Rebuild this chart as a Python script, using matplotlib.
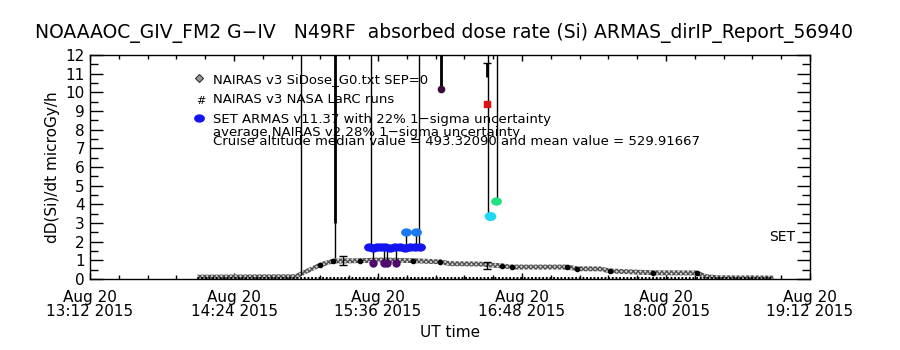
import numpy as np
import matplotlib
matplotlib.use("Agg")
import matplotlib.pyplot as plt
from matplotlib.ticker import MultipleLocator, FixedLocator
from matplotlib.markers import MarkerStyle
from matplotlib.transforms import Affine2D

# all times are UT hours on 2015-08-20
nairas_t = [14.092, 14.908, 15.117, 15.225, 15.45, 15.617, 15.892, 16.117, 16.2, 16.45,
            16.633, 16.717, 17.175, 17.258, 17.45, 17.533, 17.892, 18.258, 18.342, 18.45, 18.892]
nairas_v = [0.10, 0.12, 0.75, 0.96, 0.98, 1.02, 0.98, 0.92, 0.82, 0.80,
            0.70, 0.64, 0.64, 0.55, 0.54, 0.43, 0.33, 0.32, 0.12, 0.06, 0.05]
nairas_dot_t = [15.117, 15.225, 15.45, 15.892, 16.117, 16.633, 16.717, 17.175, 17.258, 17.533, 17.892, 18.258]
nairas_dot_v = [0.75, 0.96, 0.98, 0.98, 0.92, 0.70, 0.64, 0.64, 0.55, 0.43, 0.33, 0.32]
nairas_err_t = [15.308, 16.508]
nairas_err_lo = [0.75, 0.53]
nairas_err_hi = [1.23, 0.90]

larc_t = [14.092, 18.892]
larc_v = [0.03, 0.03]

armas_t = [15.525, 15.558, 15.592, 15.625, 15.658, 15.70, 15.742, 15.783, 15.825, 15.867, 15.908, 15.95]
armas_v = [1.70, 1.68, 1.70, 1.72, 1.70, 1.68, 1.70, 1.70, 1.68, 1.70, 1.72, 1.70]
armas_hi_t = [15.833, 15.917]
armas_hi_v = [2.53, 2.53]
armas_lo_t = [15.558, 15.65, 15.675, 15.75]
armas_lo_v = [0.86, 0.86, 0.86, 0.86]

# upper uncertainty lines that run off the top of the plot
spike_t = [14.958, 15.242, 15.542, 15.942, 16.125, 16.517, 16.592]
spike_lo = [0.2, 1.1, 1.7, 1.7, 10.2, 3.4, 4.2]
thick_t = [15.242, 16.125]
thick_lo = [3.0, 10.2]

purple_pt = (16.125, 10.2)
red_pt = (16.508, 9.4)
red_cap_lo, red_cap_hi = 10.8, 11.55
cyan_pt = (16.533, 3.4)
green_pt = (16.583, 4.2)

xticks = [13.2, 14.4, 15.6, 16.8, 18.0, 19.2]
xlabels = ["Aug 20\n13:12 2015", "Aug 20\n14:24 2015", "Aug 20\n15:36 2015",
           "Aug 20\n16:48 2015", "Aug 20\n18:00 2015", "Aug 20\n19:12 2015"]

plt.rcParams.update({"font.family": "DejaVu Sans", "font.size": 11, "hatch.linewidth": 0.9})

fig = plt.figure(figsize=(9, 3.5), dpi=100)
ax = fig.add_axes([0.1, 0.2029, 0.8, 0.64])

oval = MarkerStyle("o", transform=Affine2D().scale(1.35, 1.0))

# NAIRAS band (dithered grey)
nv = np.array(nairas_v)
ax.fill_between(nairas_t, nv - 0.13, nv + 0.13, facecolor="0.82", edgecolor="0.3",
                hatch="xxxxxxx", lw=0, zorder=2)
ax.plot(nairas_dot_t, nairas_dot_v, ls="none", marker="o", ms=3, color="k", zorder=3)
ax.plot(larc_t, larc_v, color="k", lw=2.2, ls=(0, (0.6, 0.6)), zorder=3)
ax.vlines(nairas_err_t, nairas_err_lo, nairas_err_hi, color="k", lw=1, zorder=4)
ax.hlines(nairas_err_lo + nairas_err_hi, np.array(nairas_err_t * 2) - 0.03,
          np.array(nairas_err_t * 2) + 0.03, color="k", lw=1, zorder=4)

ax.vlines(spike_t, spike_lo, 12.5, color="k", lw=1, zorder=4)
ax.vlines(thick_t, thick_lo, 12.5, color="k", lw=2, zorder=4)

# ARMAS
ax.vlines(armas_hi_t, 1.7, armas_hi_v, color="k", lw=1, zorder=4)
ax.vlines(armas_lo_t, armas_lo_v, 1.7, color="k", lw=1, zorder=4)
ax.plot(armas_t, armas_v, ls="none", marker=oval, ms=5, color="#1414f0", zorder=5)
ax.plot(armas_hi_t, armas_hi_v, ls="none", marker=oval, ms=5, color="#1a78f0", zorder=5)
ax.plot(armas_lo_t, armas_lo_v, ls="none", marker="o", ms=5, color="#500a6e", zorder=5)

ax.vlines(red_pt[0], red_cap_lo, red_cap_hi, color="k", lw=2, zorder=4)
ax.hlines(red_cap_hi, red_pt[0] - 0.03, red_pt[0] + 0.03, color="k", lw=1, zorder=4)
ax.plot(*purple_pt, marker="o", ms=4.5, color="#3a0a3a", zorder=6)
ax.plot(*red_pt, marker="s", ms=4.5, color="#e01010", zorder=6)
ax.plot(*cyan_pt, marker=oval, ms=5.5, color="#20d8f0", zorder=6)
ax.plot(*green_pt, marker=oval, ms=5, color="#20e080", zorder=6)

# legend-like annotations
ax.plot([14.108], [10.75], ls="none", marker="D", ms=4, mfc="0.6", mec="0.2", mew=0.8)
ax.text(14.12, 9.52, "#", fontsize=8, ha="center", va="center")
ax.plot([14.108], [8.62], ls="none", marker=oval, ms=5, color="#1414f0")
tx = 14.225
ax.text(tx, 10.66, "NAIRAS v3 SiDose_G0.txt SEP=0", fontsize=9.5, va="center")
ax.text(tx, 9.59, "NAIRAS v3 NASA LaRC runs", fontsize=9.5, va="center")
ax.text(tx, 8.57, "SET ARMAS v11.37 with 22% 1\u2212sigma uncertainty", fontsize=9.5, va="center")
ax.text(tx, 7.87, "average NAIRAS v2 28% 1\u2212sigma uncertainty", fontsize=9.5, va="center")
ax.text(tx, 7.39, "Cruise altitude median value = 493.32090 and mean value = 529.91667",
        fontsize=9.5, va="center")
ax.text(19.075, 2.25, "SET", fontsize=10, ha="right", va="center")

ax.set_xlim(13.2, 19.2)
ax.set_ylim(0, 12)
ax.xaxis.set_major_locator(FixedLocator(xticks))
ax.set_xticklabels(xlabels, linespacing=0.95)
ax.xaxis.set_minor_locator(MultipleLocator(0.24))
ax.yaxis.set_major_locator(MultipleLocator(1))
ax.yaxis.set_minor_locator(MultipleLocator(0.5))
ax.tick_params(axis="x", which="both", direction="in", top=True, bottom=True, pad=8)
ax.tick_params(axis="x", which="major", length=4.5, width=1)
ax.tick_params(axis="x", which="minor", length=3, width=1)
ax.tick_params(axis="y", which="both", direction="in", left=True, right=True, pad=3.6)
ax.tick_params(axis="y", which="major", length=9.4, width=1)
ax.tick_params(axis="y", which="minor", length=6, width=1)
for s in ax.spines.values():
    s.set_linewidth(1)

ax.set_xlabel("UT time", fontsize=11, labelpad=4)
ax.set_ylabel("dD(Si)/dt microGy/h", fontsize=11, labelpad=4)
fig.text(444 / 900, 1 - 33 / 350,
         "NOAAAOC_GIV_FM2 G\u2212IV   N49RF  absorbed dose rate (Si) ARMAS_dirIP_Report_56940",
         fontsize=13.5, ha="center", va="center")

fig.savefig("out.png", dpi=100)
